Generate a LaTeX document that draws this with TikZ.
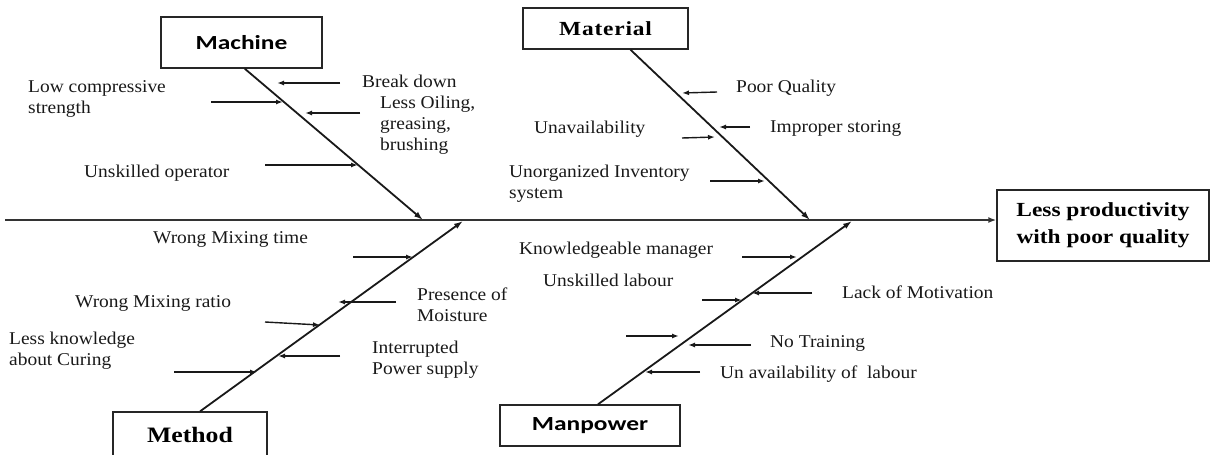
\documentclass[tikz,border=0pt]{standalone}
\usepackage{fontspec}
\usetikzlibrary{arrows.meta,calc}
\setmainfont{Liberation Serif}
\newfontfamily\causefont[FakeStretch=1.08]{Liberation Serif}
\newfontfamily\headfont[FakeStretch=1.17]{Liberation Serif}
\newfontfamily\matfont[FakeStretch=1.17,LetterSpace=4]{Liberation Serif}
\newfontfamily\catsans[FakeStretch=1.27]{Carlito}

\tikzset{
  cause/.style={font=\causefont\fontsize{18}{21}\selectfont, anchor=north west,
                inner sep=0pt, align=left, text=black!90},
  catbox/.style={draw=black!85, line width=1.4pt, inner sep=0pt},
  spine/.style={draw=black!80, line width=1.8pt, -{Latex[length=8pt,width=6pt]}},
  bone/.style={draw=black!90, line width=1.8pt, -{Latex[length=9pt,width=6pt]}},
  twig/.style={draw=black!90, line width=1.4pt, -{Latex[length=7pt,width=5pt]}},
}

\begin{document}
\begin{tikzpicture}[x=1pt,y=-1pt]
\useasboundingbox (0,0) rectangle (1210,455);

% category boxes and the effect
\node[catbox, minimum width=161pt, minimum height=51pt,
      font=\catsans\bfseries\fontsize{20}{24}\selectfont] (mach) at (241.5,42.5) {Machine};
\node[catbox, minimum width=165pt, minimum height=41pt,
      font=\matfont\bfseries\fontsize{20}{24}\selectfont] (mat) at (605.5,28.5) {Material};
\node[catbox, minimum width=154pt, minimum height=46pt,
      font=\headfont\bfseries\fontsize{22}{26}\selectfont] (meth) at (190,435) {Method};
\node[catbox, minimum width=180pt, minimum height=41pt,
      font=\catsans\bfseries\fontsize{20}{24}\selectfont] (man) at (590,425.5) {Manpower};
\node[catbox, minimum width=212pt, minimum height=71pt, align=center,
      font=\headfont\bfseries\fontsize{20}{27}\selectfont] (eff) at (1103,225.5)
      {Less productivity\\with poor quality};

% main spine, level into the effect box
\coordinate (tail) at (5,220);
\draw[spine] (tail) -- (tail -| eff.west);

% bones meeting the spine
\coordinate (jmach) at (423,220);
\coordinate (jmat)  at (810,220);
\coordinate (jmeth) at (463,221);
\coordinate (jman)  at (852,221);
\draw[bone] ($(mach.south west)!0.52!(mach.south east)$) -- (jmach);
\draw[bone] ($(mat.south west)!0.65!(mat.south east)$) -- (jmat);
\draw[bone] ($(meth.north west)!0.565!(meth.north east)$) -- (jmeth);
\draw[bone] ($(man.north west)!0.544!(man.north east)$) -- (jman);

% Machine causes
\node[cause] (bd)  at (362,72.3)  {\strut Break down};
\node[cause] (lcs) at (28,77.3)   {\strut Low compressive\\strength};
\node[cause] (lo)  at (380,93.3)  {\strut Less Oiling,\\greasing,\\brushing};
\node[cause] (uo)  at (84,162.3)  {\strut Unskilled operator};
\coordinate (bdA) at (340,83);  \coordinate (bdB) at (277,83);
\coordinate (lcA) at (211,102); \coordinate (lcB) at (283,102);
\coordinate (loA) at (360,113); \coordinate (loB) at (305,113);
\coordinate (uoA) at (265,165); \coordinate (uoB) at (358,165);
\draw[twig] (bdA) -- (bdB);
\draw[twig] (lcA) -- (lcB);
\draw[twig] (loA) -- (loB);
\draw[twig] (uoA) -- (uoB);

% Material causes
\node[cause] (pq)  at (736,77.3)  {\strut Poor Quality};
\node[cause] (is)  at (770,117.3) {\strut Improper storing};
\node[cause] (ua)  at (534,118.3) {\strut Unavailability};
\node[cause] (ui)  at (509,162.3) {\strut Unorganized Inventory\\system};
\coordinate (pqA) at (717,92);  \coordinate (pqB) at (682,93);
\coordinate (isA) at (750,127); \coordinate (isB) at (719,127);
\coordinate (uaA) at (682,138); \coordinate (uaB) at (715,137);
\coordinate (uiA) at (710,181); \coordinate (uiB) at (765,181);
\draw[twig] (pqA) -- (pqB);
\draw[twig] (isA) -- (isB);
\draw[twig] (uaA) -- (uaB);
\draw[twig] (uiA) -- (uiB);

% Method causes
\node[cause] (wmt) at (153,228.3) {\strut Wrong Mixing time};
\node[cause] (pm)  at (417,285.3) {\strut Presence of\\Moisture};
\node[cause] (wmr) at (75,292.3)  {\strut Wrong Mixing ratio};
\node[cause] (lk)  at (9,329.3)   {\strut Less knowledge\\about Curing};
\node[cause] (ip)  at (372,338.3) {\strut Interrupted\\Power supply};
\coordinate (wtA) at (353,257); \coordinate (wtB) at (413,257);
\coordinate (pmA) at (396,302); \coordinate (pmB) at (338,302);
\coordinate (wrA) at (265,322); \coordinate (wrB) at (320,325);
\coordinate (lkA) at (174,372); \coordinate (lkB) at (257,372);
\coordinate (ipA) at (340,356); \coordinate (ipB) at (278,356);
\draw[twig] (wtA) -- (wtB);
\draw[twig] (pmA) -- (pmB);
\draw[twig] (wrA) -- (wrB);
\draw[twig] (lkA) -- (lkB);
\draw[twig] (ipA) -- (ipB);

% Manpower causes
\node[cause] (km)  at (519,239.3) {\strut Knowledgeable manager};
\node[cause] (ul)  at (543,271.3) {\strut Unskilled labour};
\node[cause] (lm)  at (842,283.3) {\strut Lack of Motivation};
\node[cause] (nt)  at (770,332.3) {\strut No Training};
\node[cause] (unl) at (720,363.3) {\strut Un availability of\ \ labour};
\coordinate (kmA) at (742,257); \coordinate (kmB) at (797,257);
\coordinate (ulA) at (702,300); \coordinate (ulB) at (742,300);
\coordinate (lmA) at (812,293); \coordinate (lmB) at (752,293);
\coordinate (xxA) at (626,336); \coordinate (xxB) at (679,336);
\coordinate (ntA) at (751,345); \coordinate (ntB) at (688,345);
\coordinate (unA) at (700,372); \coordinate (unB) at (645,372);
\draw[twig] (kmA) -- (kmB);
\draw[twig] (ulA) -- (ulB);
\draw[twig] (lmA) -- (lmB);
\draw[twig] (xxA) -- (xxB);
\draw[twig] (ntA) -- (ntB);
\draw[twig] (unA) -- (unB);
\end{tikzpicture}
\end{document}
